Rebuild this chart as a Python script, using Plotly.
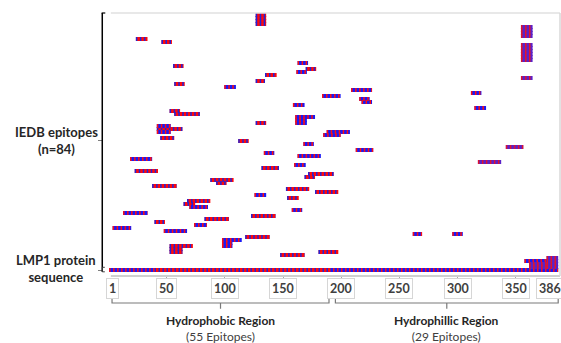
import plotly.graph_objects as go

# ---------------- data ----------------
# IEDB epitopes: start residue, end residue, display row, residue-class colouring
ep_start = [127, 127, 127, 127, 355, 355, 355, 355, 24, 46, 355, 355, 355, 355, 355, 355,
            163, 56, 170, 162, 135, 355, 127, 57, 100, 209, 312, 184, 216, 218, 159, 315,
            53, 57, 161, 161, 161, 127, 42, 42, 42, 188, 185, 45, 112, 168, 342, 213,
            134, 163, 19, 318, 160, 132, 23, 172, 169, 88, 93, 38, 153, 178, 126, 154,
            68, 65, 70, 158, 13, 123, 83, 40, 74, 4, 48, 262, 296, 118, 98, 98,
            98, 53, 53, 53, 181, 148, 377, 358, 377, 362, 377, 362, 377]
ep_end = [135, 135, 135, 135, 364, 364, 364, 364, 33, 54, 364, 364, 364, 364, 364, 364,
          171, 64, 178, 170, 144, 364, 134, 65, 109, 226, 320, 199, 224, 226, 168, 324,
          61, 78, 177, 170, 170, 135, 53, 63, 53, 207, 199, 56, 120, 176, 356, 227,
          142, 182, 37, 337, 169, 146, 42, 193, 177, 107, 101, 58, 172, 197, 135, 163,
          87, 74, 85, 166, 33, 143, 103, 48, 84, 19, 67, 269, 304, 138, 114, 106,
          106, 72, 63, 63, 197, 168, 386, 377, 386, 377, 386, 377, 386]
ep_row = [85, 84, 83, 82, 81, 80, 79, 78, 77, 76, 75, 74, 73, 72, 71, 70,
          69, 68, 67, 66, 65, 64, 63, 62, 61, 60, 59, 58, 57, 56, 55, 54,
          53, 52, 51, 50, 49, 49, 48, 47, 46, 46, 45, 44, 43, 42, 41, 40,
          39, 38, 37, 36, 35, 34, 33, 32, 31, 30, 29, 28, 27, 26, 25, 24,
          23, 22, 21, 20, 19, 18, 17, 16, 15, 14, 13, 12, 12, 11, 10, 9,
          8, 8, 7, 6, 6, 5, 4, 3, 3, 2, 2, 1, 1]
ep_class = ['R', 'R', 'R', 'R', 'P', 'P', 'P', 'P', 'R', 'R', 'P', 'P', 'P', 'P', 'P', 'P',
            'B', 'R', 'R', 'B', 'R', 'P', 'R', 'R', 'B', 'B', 'B', 'B', 'B', 'B', 'B', 'B',
            'R', 'R', 'B', 'B', 'B', 'R', 'B', 'R', 'B', 'B', 'B', 'R', 'R', 'B', 'P', 'B',
            'B', 'B', 'B', 'P', 'B', 'R', 'R', 'R', 'R', 'R', 'R', 'R', 'R', 'R', 'B', 'R',
            'R', 'R', 'B', 'B', 'B', 'R', 'R', 'R', 'B', 'B', 'B', 'B', 'B', 'R', 'B', 'B',
            'B', 'R', 'R', 'R', 'R', 'R', 'P', 'B', 'P', 'P', 'P', 'P', 'P']

# LMP1 protein sequence bar (row 0), split by dominant residue class
seq_start = [1, 40, 190]
seq_end = [40, 190, 386]
seq_class = ['B', 'R', 'B']

tick_vals = [1, 50, 100, 150, 200, 250, 300, 350, 386]
tick_text = ['1', '50', '100', '150', '200', '250', '300', '350', '386']

region_names = ['Hydrophobic Region', 'Hydrophillic Region']
region_counts = [55, 29]
region_start = [3, 195]
region_end = [189, 386]

row_labels = ['IEDB epitopes<br>(n=84)', 'LMP1 protein<br>sequence']
row_label_pos = [43.3, 0.6]

# ---------------- styling ----------------
main_col = {'R': '#FF0A0A', 'B': '#1A1AF5', 'P': '#5A22C8'}
acc_col = {'R': '#2323D8', 'B': '#FF1010', 'P': '#E0142E'}
FONT = 'Lato, Open Sans, Liberation Sans, sans-serif'

fig = go.Figure()

starts = ep_start + seq_start
ends = ep_end + seq_end
rows = ep_row + [0] * len(seq_start)
classes = ep_class + seq_class

for cls in ['R', 'B', 'P']:
    xs, ys = [], []
    for s, e, r, c in zip(starts, ends, rows, classes):
        if c != cls:
            continue
        xs += [s - 0.5, e + 0.5, None]
        ys += [r, r, None]
    if not xs:
        continue
    fig.add_trace(go.Scatter(x=xs, y=ys, mode='lines',
                             line=dict(color=main_col[cls], width=4),
                             hoverinfo='skip', showlegend=False))
    fig.add_trace(go.Scatter(x=xs, y=ys, mode='lines',
                             line=dict(color=acc_col[cls], width=4, dash='1.5px,2.5px'),
                             hoverinfo='skip', showlegend=False))

shapes = []
# bottom axis line, top & right light borders
shapes.append(dict(type='line', xref='x', yref='paper', x0=2, x1=388.06, y0=0, y1=0,
                   line=dict(color='#bfbfbf', width=1.5)))
shapes.append(dict(type='line', xref='x', yref='paper', x0=2, x1=388.06, y0=1, y1=1,
                   line=dict(color='#e0e0e0', width=1.5)))
shapes.append(dict(type='line', xref='paper', yref='paper', x0=1, x1=1, y0=0, y1=1,
                   line=dict(color='#d9d9d9', width=1.5)))
# black y-axis line (ends at the sequence row) with small hooks
shapes.append(dict(type='line', xref='paper', yref='y', x0=-0.0016, x1=-0.0016, y0=-0.6, y1=85.67,
                   line=dict(color='#000000', width=1.5)))
shapes.append(dict(type='line', xref='paper', yref='paper', x0=-0.003, x1=0.005, y0=1, y1=1,
                   line=dict(color='#000000', width=1.2)))
shapes.append(dict(type='path', xref='paper', yref='y',
                   path='M 0.004,0.9 L -0.0016,0.9 L -0.0016,-0.6 L 0.004,-0.6',
                   line=dict(color='#404040', width=1)))

annotations = []
for v, t in zip(tick_vals, tick_text):
    xs = 0
    if t == '1':
        xs = 2.5
    elif t == '386':
        xs = -8
    annotations.append(dict(x=v, xref='x', y=-0.0475, yref='paper', text='<b>%s</b>' % t,
                            showarrow=False, xanchor='center', yanchor='middle', xshift=xs,
                            font=dict(family=FONT, size=12.5, color='#404040'),
                            bordercolor='#d6d6d6', borderwidth=1, borderpad=2,
                            bgcolor='white'))

yh, yl, yt = -0.0863, -0.1027, -0.1243
for name, cnt, s, e in zip(region_names, region_counts, region_start, region_end):
    x1, x2 = s, e + 0.5
    xc = (x1 + x2) / 2
    shapes.append(dict(type='path', xref='x', yref='paper',
                       path=f'M {x1},{yh} L {x1},{yl} L {xc},{yl} L {xc},{yt} '
                            f'M {xc},{yl} L {x2},{yl} L {x2},{yh}',
                       line=dict(color='#7a7a7a', width=1.2)))
    annotations.append(dict(x=xc, xref='x', y=-0.2015, yref='paper',
                            text=f'<b>{name}</b><br><span style="color:#404040">({cnt} Epitopes)</span>',
                            showarrow=False, xanchor='center', yanchor='middle', align='center',
                            font=dict(family=FONT, size=12, color='#262626')))

for lab, pos in zip(row_labels, row_label_pos):
    annotations.append(dict(x=-0.1028, xref='paper', y=pos, yref='y', text='<b>%s</b>' % lab,
                            showarrow=False, xanchor='center', yanchor='middle', align='center',
                            font=dict(family=FONT, size=13, color='#262626')))

fig.update_layout(
    width=561, height=343,
    margin=dict(l=103, r=1, t=13, b=67),
    paper_bgcolor='white', plot_bgcolor='white',
    showlegend=False, hovermode=False,
    xaxis=dict(range=[-4.76, 388.06], showgrid=False, zeroline=False, showline=False,
               ticks='outside', tickvals=[50, 100, 150, 200, 250, 300, 350], ticklen=3,
               tickcolor='#a6a6a6', tickwidth=1, showticklabels=False, fixedrange=True),
    yaxis=dict(range=[-2, 85.67], showgrid=False, zeroline=False, showline=False,
               ticks='outside', tickvals=[0, 43.3],
               ticklen=4, tickcolor='#7f7f7f', showticklabels=False, fixedrange=True),
    shapes=shapes, annotations=annotations,
)

fig.write_html('out.html', config={'displayModeBar': False},
               post_script="document.body.style.margin='0';document.body.style.overflow='hidden';")
